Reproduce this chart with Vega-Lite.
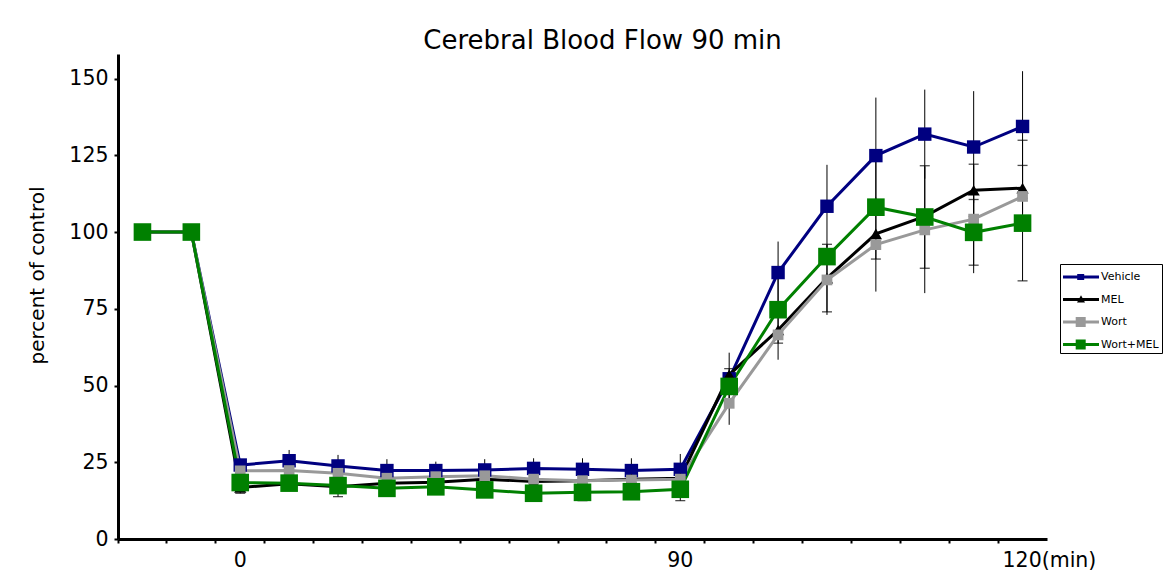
{
  "$schema": "https://vega.github.io/schema/vega-lite/v6.json",
  "width": 929,
  "height": 485,
  "autosize": {"type": "none"},
  "padding": {"left": 118, "top": 54, "right": 120, "bottom": 44},
  "background": "white",
  "title": {"text": "Cerebral Blood Flow 90 min", "fontSize": 26, "fontWeight": "normal", "font": "DejaVu Sans", "color": "black", "anchor": "middle", "dx": 20, "offset": 0},
  "datasets": {
    "means": [
      {"series": "Vehicle", "idx": -2, "value": 100}, {"series": "Vehicle", "idx": -1, "value": 100},
      {"series": "Vehicle", "idx": 0, "value": 24.1}, {"series": "Vehicle", "idx": 1, "value": 25.5},
      {"series": "Vehicle", "idx": 2, "value": 23.8}, {"series": "Vehicle", "idx": 3, "value": 22.3},
      {"series": "Vehicle", "idx": 4, "value": 22.3}, {"series": "Vehicle", "idx": 5, "value": 22.5},
      {"series": "Vehicle", "idx": 6, "value": 23.0}, {"series": "Vehicle", "idx": 7, "value": 22.7},
      {"series": "Vehicle", "idx": 8, "value": 22.3}, {"series": "Vehicle", "idx": 9, "value": 22.7},
      {"series": "Vehicle", "idx": 10, "value": 52.2}, {"series": "Vehicle", "idx": 11, "value": 86.8},
      {"series": "Vehicle", "idx": 12, "value": 108.4}, {"series": "Vehicle", "idx": 13, "value": 124.9},
      {"series": "Vehicle", "idx": 14, "value": 131.9}, {"series": "Vehicle", "idx": 15, "value": 127.7},
      {"series": "Vehicle", "idx": 16, "value": 134.4},
      {"series": "MEL", "idx": -2, "value": 100}, {"series": "MEL", "idx": -1, "value": 100},
      {"series": "MEL", "idx": 0, "value": 16.8}, {"series": "MEL", "idx": 1, "value": 18.0},
      {"series": "MEL", "idx": 2, "value": 17.0}, {"series": "MEL", "idx": 3, "value": 18.2},
      {"series": "MEL", "idx": 4, "value": 18.5}, {"series": "MEL", "idx": 5, "value": 19.5},
      {"series": "MEL", "idx": 6, "value": 18.7}, {"series": "MEL", "idx": 7, "value": 19.0},
      {"series": "MEL", "idx": 8, "value": 19.5}, {"series": "MEL", "idx": 9, "value": 19.8},
      {"series": "MEL", "idx": 10, "value": 53.5}, {"series": "MEL", "idx": 11, "value": 68.1},
      {"series": "MEL", "idx": 12, "value": 85.0}, {"series": "MEL", "idx": 13, "value": 99.4},
      {"series": "MEL", "idx": 14, "value": 105.1}, {"series": "MEL", "idx": 15, "value": 113.6},
      {"series": "MEL", "idx": 16, "value": 114.3},
      {"series": "Wort", "idx": -2, "value": 100}, {"series": "Wort", "idx": -1, "value": 100},
      {"series": "Wort", "idx": 0, "value": 22.2}, {"series": "Wort", "idx": 1, "value": 22.3},
      {"series": "Wort", "idx": 2, "value": 21.4}, {"series": "Wort", "idx": 3, "value": 19.8},
      {"series": "Wort", "idx": 4, "value": 20.3}, {"series": "Wort", "idx": 5, "value": 20.6},
      {"series": "Wort", "idx": 6, "value": 19.5}, {"series": "Wort", "idx": 7, "value": 19.0},
      {"series": "Wort", "idx": 8, "value": 19.2}, {"series": "Wort", "idx": 9, "value": 19.5},
      {"series": "Wort", "idx": 10, "value": 44.2}, {"series": "Wort", "idx": 11, "value": 66.5},
      {"series": "Wort", "idx": 12, "value": 84.4}, {"series": "Wort", "idx": 13, "value": 95.9},
      {"series": "Wort", "idx": 14, "value": 100.7}, {"series": "Wort", "idx": 15, "value": 104.2},
      {"series": "Wort", "idx": 16, "value": 111.6},
      {"series": "Wort+MEL", "idx": -2, "value": 100}, {"series": "Wort+MEL", "idx": -1, "value": 100},
      {"series": "Wort+MEL", "idx": 0, "value": 18.4}, {"series": "Wort+MEL", "idx": 1, "value": 18.2},
      {"series": "Wort+MEL", "idx": 2, "value": 17.4}, {"series": "Wort+MEL", "idx": 3, "value": 16.5},
      {"series": "Wort+MEL", "idx": 4, "value": 17.0}, {"series": "Wort+MEL", "idx": 5, "value": 16.0},
      {"series": "Wort+MEL", "idx": 6, "value": 14.9}, {"series": "Wort+MEL", "idx": 7, "value": 15.2},
      {"series": "Wort+MEL", "idx": 8, "value": 15.4}, {"series": "Wort+MEL", "idx": 9, "value": 16.2},
      {"series": "Wort+MEL", "idx": 10, "value": 49.7}, {"series": "Wort+MEL", "idx": 11, "value": 74.7},
      {"series": "Wort+MEL", "idx": 12, "value": 92.0}, {"series": "Wort+MEL", "idx": 13, "value": 108.1},
      {"series": "Wort+MEL", "idx": 14, "value": 104.9}, {"series": "Wort+MEL", "idx": 15, "value": 99.9},
      {"series": "Wort+MEL", "idx": 16, "value": 102.9}
    ],
    "errs": [
      {"series": "Vehicle", "idx": 1, "lo": 25.5, "hi": 29.0},
      {"series": "Vehicle", "idx": 2, "lo": 23.8, "hi": 27.4},
      {"series": "Vehicle", "idx": 3, "lo": 22.3, "hi": 26.0},
      {"series": "Vehicle", "idx": 4, "lo": 22.3, "hi": 25.2},
      {"series": "Vehicle", "idx": 5, "lo": 22.5, "hi": 26.0},
      {"series": "Vehicle", "idx": 6, "lo": 23.0, "hi": 26.3},
      {"series": "Vehicle", "idx": 7, "lo": 22.7, "hi": 26.3},
      {"series": "Vehicle", "idx": 8, "lo": 22.3, "hi": 26.3},
      {"series": "Vehicle", "idx": 9, "lo": 22.7, "hi": 27.7},
      {"series": "Vehicle", "idx": 10, "lo": 43.7, "hi": 60.7},
      {"series": "Vehicle", "idx": 11, "lo": 76.7, "hi": 96.9},
      {"series": "Vehicle", "idx": 12, "lo": 95.0, "hi": 121.9},
      {"series": "Vehicle", "idx": 13, "lo": 106.0, "hi": 143.8},
      {"series": "Vehicle", "idx": 14, "lo": 117.4, "hi": 146.4},
      {"series": "Vehicle", "idx": 15, "lo": 109.5, "hi": 145.9},
      {"series": "Vehicle", "idx": 16, "lo": 116.4, "hi": 152.4},
      {"series": "MEL", "idx": 10, "lo": 51.5, "hi": 55.5},
      {"series": "MEL", "idx": 12, "lo": 74.0, "hi": 96.0},
      {"series": "MEL", "idx": 15, "lo": 105.1, "hi": 122.1},
      {"series": "MEL", "idx": 16, "lo": 111.0, "hi": 129.9},
      {"series": "Wort", "idx": 10, "lo": 37.2, "hi": 51.2},
      {"series": "Wort", "idx": 11, "lo": 58.4, "hi": 74.6},
      {"series": "Wort", "idx": 12, "lo": 73.0, "hi": 95.8},
      {"series": "Wort", "idx": 13, "lo": 80.6, "hi": 111.2},
      {"series": "Wort", "idx": 14, "lo": 80.1, "hi": 121.3},
      {"series": "Wort", "idx": 15, "lo": 86.6, "hi": 121.8},
      {"series": "Wort", "idx": 16, "lo": 106.0, "hi": 117.0},
      {"series": "Wort+MEL", "idx": 0, "lo": 14.9, "hi": 21.9},
      {"series": "Wort+MEL", "idx": 2, "lo": 13.8, "hi": 21.0},
      {"series": "Wort+MEL", "idx": 7, "lo": 12.5, "hi": 17.9},
      {"series": "Wort+MEL", "idx": 9, "lo": 12.5, "hi": 19.9},
      {"series": "Wort+MEL", "idx": 11, "lo": 63.8, "hi": 85.6},
      {"series": "Wort+MEL", "idx": 13, "lo": 91.2, "hi": 125.0},
      {"series": "Wort+MEL", "idx": 14, "lo": 88.2, "hi": 121.6},
      {"series": "Wort+MEL", "idx": 15, "lo": 89.2, "hi": 110.6},
      {"series": "Wort+MEL", "idx": 16, "lo": 84.1, "hi": 121.7}
    ]
  },
  "encoding": {
    "x": {
      "field": "idx", "type": "ordinal",
      "scale": {"type": "band", "domain": [-2, -1, 0, 1, 2, 3, 4, 5, 6, 7, 8, 9, 10, 11, 12, 13, 14, 15, 16], "paddingInner": 0, "paddingOuter": 0},
      "axis": {
        "title": null, "bandPosition": 0, "labelOverlap": false, "labelAngle": 0,
        "labelExpr": "datum.value == 0 ? '0' : datum.value == 9 ? '90' : datum.value == 16 ? '120(min)' : ''",
        "labelOffset": {"condition": {"test": "datum.value == 16", "value": -20}, "value": 0},
        "labelAlign": {"condition": {"test": "datum.value == 16", "value": "left"}, "value": "center"},
        "labelFontSize": 20.5, "labelFont": "DejaVu Sans", "labelColor": "black", "labelPadding": 7,
        "domainColor": "black", "domainWidth": 3, "tickColor": "black", "tickWidth": 2, "tickSize": 4
      }
    },
    "color": {
      "field": "series", "type": "nominal",
      "scale": {"domain": ["Vehicle", "MEL", "Wort", "Wort+MEL"], "range": ["#000080", "#000000", "#999999", "#008000"]},
      "legend": {
        "orient": "none", "legendX": 942, "legendY": 210, "title": null,
        "strokeColor": "black", "padding": 3, "labelFontSize": 11, "labelFont": "DejaVu Sans", "labelColor": "black",
        "symbolSize": 400, "rowPadding": 7.5, "labelOffset": 18, "symbolStrokeWidth": 0,
        "encode": {
          "symbols": {
            "update": {
              "shape": {"signal": "datum.value == 'MEL' ? 'M-1,-0.15H2.6V0.15H-1Z M0.4,0.3L0.8,-0.42L1.2,0.3Z' : datum.value == 'Vehicle' ? 'M-1,-0.15H2.6V0.15H-1Z M0.42,-0.3H1.12V0.3H0.42Z' : 'M-1,-0.15H2.6V0.15H-1Z M0.27,-0.5H1.27V0.5H0.27Z'"},
              "fill": {"scale": "color", "field": "value"},
              "fillOpacity": {"value": 1},
              "strokeWidth": {"value": 0}
            }
          }
        }
      }
    }
  },
  "layer": [
    {
      "data": {"name": "errs"},
      "mark": {"type": "rule", "strokeWidth": 1},
      "encoding": {
        "y": {"field": "lo", "type": "quantitative", "scale": {"domain": [0, 158], "nice": false},
          "axis": {
            "title": "percent of control", "values": [0, 25, 50, 75, 100, 125, 150], "grid": false,
            "labelFontSize": 20.5, "labelFont": "DejaVu Sans", "labelColor": "black", "labelPadding": 6,
            "domainColor": "black", "domainWidth": 3, "tickColor": "black", "tickWidth": 2, "tickSize": 4,
            "titleFontSize": 20, "titleFont": "DejaVu Sans", "titleFontWeight": "normal", "titleColor": "black", "titleX": -71, "titleY": 221
          }},
        "y2": {"field": "hi"},
        "color": {"value": "black"}
      }
    },
    {
      "data": {"name": "errs"},
      "transform": [{"filter": "datum.series == 'MEL' || datum.series == 'Wort+MEL'"}],
      "mark": {"type": "tick", "orient": "horizontal", "size": 10, "thickness": 1.3},
      "encoding": {"y": {"field": "lo", "type": "quantitative"}, "color": {"value": "black"}}
    },
    {
      "data": {"name": "errs"},
      "transform": [{"filter": "datum.series == 'MEL' || datum.series == 'Wort+MEL'"}],
      "mark": {"type": "tick", "orient": "horizontal", "size": 10, "thickness": 1.3},
      "encoding": {"y": {"field": "hi", "type": "quantitative"}, "color": {"value": "black"}}
    },
    {
      "data": {"name": "means"},
      "mark": {"type": "line", "strokeWidth": 3},
      "encoding": {"y": {"field": "value", "type": "quantitative"}}
    },
    {
      "data": {"name": "means"},
      "transform": [{"filter": "datum.series == 'Vehicle'"}],
      "mark": {"type": "point", "filled": true, "opacity": 1, "strokeWidth": 0, "shape": "square", "size": 180},
      "encoding": {"y": {"field": "value", "type": "quantitative"}}
    },
    {
      "data": {"name": "means"},
      "transform": [{"filter": "datum.series == 'MEL'"}],
      "mark": {"type": "point", "filled": true, "opacity": 1, "strokeWidth": 0, "shape": "triangle-up", "size": 150},
      "encoding": {"y": {"field": "value", "type": "quantitative"}}
    },
    {
      "data": {"name": "means"},
      "transform": [{"filter": "datum.series == 'Wort'"}],
      "mark": {"type": "point", "filled": true, "opacity": 1, "strokeWidth": 0, "shape": "square", "size": 115},
      "encoding": {"y": {"field": "value", "type": "quantitative"}}
    },
    {
      "data": {"name": "means"},
      "transform": [{"filter": "datum.series == 'Wort+MEL'"}],
      "mark": {"type": "point", "filled": true, "opacity": 1, "strokeWidth": 0, "shape": "square", "size": 310},
      "encoding": {"y": {"field": "value", "type": "quantitative"}}
    }
  ],
  "config": {
    "view": {"stroke": null},
    "font": "DejaVu Sans"
  }
}
